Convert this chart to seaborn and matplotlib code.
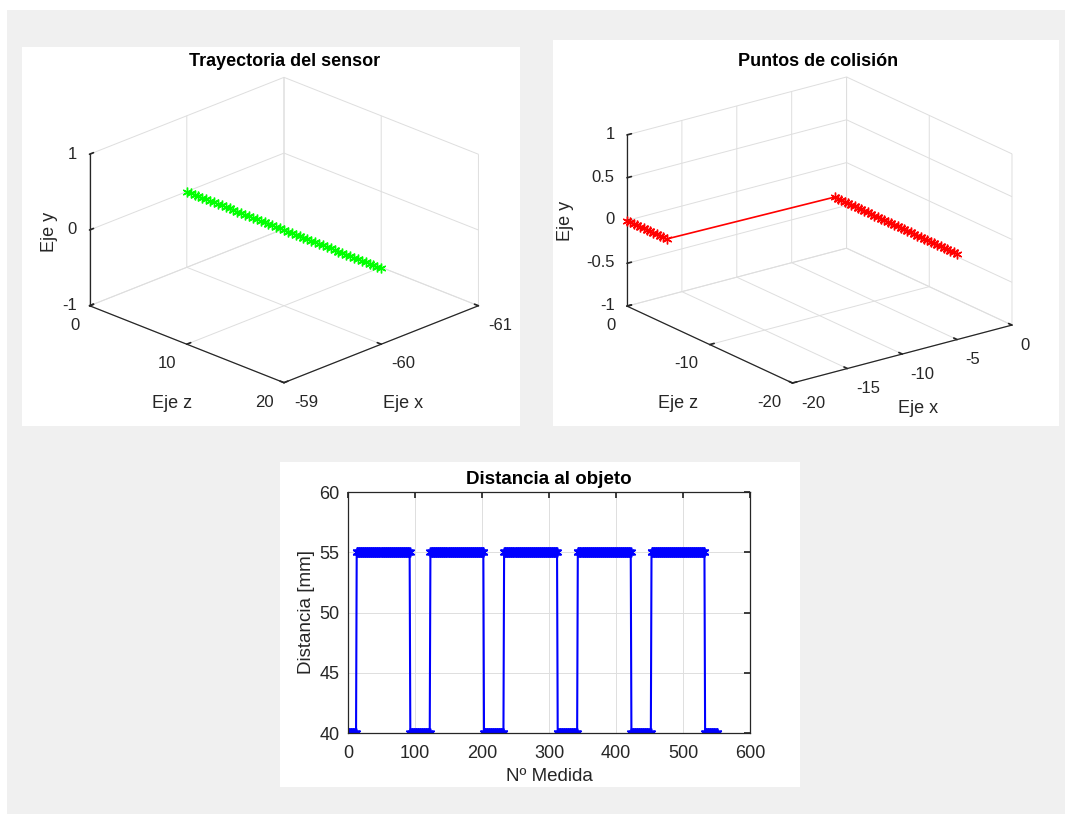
import matplotlib
matplotlib.use("Agg")
import matplotlib.pyplot as plt
import numpy as np
import pandas as pd
import seaborn as sns
from matplotlib.patches import Rectangle

# ---------------- data ----------------
# sensor positions along Eje z (the sensor stays at x = -60, y = 0)
sensor_z = [0.0, 0.4, 0.8, 1.2, 1.6, 2.0, 2.4, 2.8, 3.2, 3.6,
            4.0, 4.4, 4.8, 5.2, 5.6, 6.0, 6.4, 6.8, 7.2, 7.6,
            8.0, 8.4, 8.8, 9.2, 9.6, 10.0, 10.4, 10.8, 11.2, 11.6,
            12.0, 12.4, 12.8, 13.2, 13.6, 14.0, 14.4, 14.8, 15.2, 15.6,
            16.0, 16.4, 16.8, 17.2, 17.6, 18.0, 18.4, 18.8, 19.2, 19.6, 20.0]
sensor_x_value = -60.0
sensor_y_value = 0.0

# collision points: x level and number of consecutive points at that level
collision_x_levels = [-20.0, -5.0]
collision_x_runs = [13, 38]
collision_y_value = 0.0

# measured distance: level [mm] and number of consecutive measurements
distance_levels = [40, 55, 40, 55, 40, 55, 40, 55, 40, 55, 40]
distance_runs = [12, 80, 30, 80, 30, 80, 30, 80, 30, 80, 19]

# ---------------- styling ----------------
FIG_W, FIG_H = 1065, 814
BG = "#f0f0f0"
AX_COLOR = "#262626"
GRID_COLOR = "#dedede"
TICK_FS = 12
LABEL_FS = 13
TITLE_FS = 13

sns.set_theme(style="white")
plt.rcParams["font.family"] = ["Liberation Sans", "DejaVu Sans"]
plt.rcParams["axes.unicode_minus"] = False
plt.rcParams["grid.color"] = GRID_COLOR
plt.rcParams["grid.linewidth"] = 0.7
plt.rcParams["grid.linestyle"] = "-"
plt.rcParams["axes3d.automargin"] = False

ASTERISK = (6, 2, 0)

fig = plt.figure(figsize=(FIG_W / 100, FIG_H / 100), dpi=100, facecolor=BG)


def px_rect(x0, y0, x1, y1, color):
    """Rectangle given in pixels measured from the top-left corner."""
    fig.patches.append(Rectangle((x0 / FIG_W, 1 - y1 / FIG_H),
                                 (x1 - x0) / FIG_W, (y1 - y0) / FIG_H,
                                 transform=fig.transFigure, facecolor=color,
                                 edgecolor="none", zorder=-10))


def px_text(x, y, s, **kw):
    """Figure text placed at a pixel position measured from the top-left."""
    fig.text(x / FIG_W, 1 - y / FIG_H, s, ha="center", va="center", **kw)


# outer white frame strips and white panels
px_rect(0, 0, FIG_W, 10, "white")
px_rect(0, 0, 7, FIG_H, "white")
px_rect(22, 47, 520, 426, "white")
px_rect(553, 40, 1059, 426, "white")
px_rect(280, 462, 800, 787, "white")


def style_3d(ax):
    ax.set_proj_type("ortho")
    ax.patch.set_visible(False)
    for axis in (ax.xaxis, ax.yaxis, ax.zaxis):
        axis.set_pane_color((1, 1, 1, 0))
        axis.pane.set_edgecolor(GRID_COLOR)
        axis.pane.set_linewidth(0.7)
        axis.line.set_color(AX_COLOR)
        axis.line.set_linewidth(0.9)
        axis._axinfo["grid"].update(color=GRID_COLOR, linewidth=0.7)
        axis._axinfo["tick"].update(inward_factor=0.0, outward_factor=0.25)
        axis._axinfo["tick"]["color"] = AX_COLOR
        axis.set_tick_params(labelsize=TICK_FS, colors=AX_COLOR, pad=0)
    ax.zaxis.set_tick_params(pad=-3)


def align_3d_ticklabels(ax):
    # labels on the right floor edge hang to the right, the others to the left
    for t in ax.xaxis.get_majorticklabels():
        t.set_horizontalalignment("left")
    for t in ax.yaxis.get_majorticklabels():
        t.set_horizontalalignment("right")
    for t in ax.zaxis.get_majorticklabels():
        t.set_horizontalalignment("right")
        t.set_verticalalignment("center")


def corners_px(ax):
    M = ax.get_proj()
    xs, ys, zs = [], [], []
    for a in ax.get_xlim3d():
        for b in ax.get_ylim3d():
            for c in ax.get_zlim3d():
                xs.append(a); ys.append(b); zs.append(c)
    v = M @ np.vstack([xs, ys, zs, np.ones(len(xs))])
    pts = np.column_stack([v[0] / v[3], v[1] / v[3]])
    return ax.transData.transform(pts)


def place_box(ax, left, top, right, bottom):
    """Size the 3D axes so its data box spans the given pixel region."""
    for _ in range(4):
        fig.canvas.draw()
        d = corners_px(ax)
        x0, x1 = d[:, 0].min(), d[:, 0].max()
        y0, y1 = d[:, 1].min(), d[:, 1].max()
        ty0, ty1 = FIG_H - bottom, FIG_H - top
        s = ((right - left) / (x1 - x0) + (ty1 - ty0) / (y1 - y0)) / 2
        bb = ax.get_position().transformed(fig.transFigure)
        cx, cy = (bb.x0 + bb.x1) / 2, (bb.y0 + bb.y1) / 2
        mx, my = (x0 + x1) / 2, (y0 + y1) / 2
        size = bb.width * s
        ncx = (left + right) / 2 - (mx - cx) * s
        ncy = (ty0 + ty1) / 2 - (my - cy) * s
        ax.set_position([(ncx - size / 2) / FIG_W, (ncy - size / 2) / FIG_H,
                         size / FIG_W, size / FIG_H])
    fig.canvas.draw()
    align_3d_ticklabels(ax)


label_kw = dict(fontsize=LABEL_FS, color=AX_COLOR)
title_kw = dict(fontsize=TITLE_FS, fontweight="bold", color="black")

# ---------------- Trayectoria del sensor ----------------
n_sensor = len(sensor_z)
ax1 = fig.add_axes([0.0, 0.45, 0.5, 0.5], projection="3d")
style_3d(ax1)
ax1.plot([sensor_x_value] * n_sensor, sensor_z, [sensor_y_value] * n_sensor,
         color=(0, 1, 0), linewidth=1.0, marker=ASTERISK, markersize=7,
         markeredgewidth=1.0)
ax1.set_xlim(-61, -59)
ax1.set_ylim(0, 20)
ax1.set_zlim(-1, 1)
ax1.set_xticks([-61, -60, -59])
ax1.set_yticks([0, 10, 20])
ax1.set_zticks([-1, 0, 1])
ax1.set_box_aspect((1, 1, 0.6))
ax1.view_init(elev=23.3, azim=45)
place_box(ax1, 90, 77, 478, 383)
px_text(285, 62, "Trayectoria del sensor", **title_kw)
px_text(49, 232, "Eje y", rotation=90, **label_kw)
px_text(172, 404, "Eje z", **label_kw)
px_text(403, 404, "Eje x", **label_kw)

# ---------------- Puntos de colisión ----------------
collision_x = np.repeat(collision_x_levels, collision_x_runs)
collision_z = [-z for z in sensor_z]
ax2 = fig.add_axes([0.5, 0.45, 0.5, 0.5], projection="3d")
style_3d(ax2)
ax2.plot(collision_x, collision_z, [collision_y_value] * len(collision_z),
         color=(1, 0, 0), linewidth=1.2, marker=ASTERISK, markersize=7,
         markeredgewidth=1.0)
ax2.set_xlim(-20, 0)
ax2.set_ylim(-20, 0)
ax2.set_zlim(-1, 1)
ax2.set_xticks([-20, -15, -10, -5, 0])
ax2.set_yticks([-20, -10, 0])
ax2.set_zticks([-1, -0.5, 0, 0.5, 1])
ax2.set_zticklabels(["-1", "-0.5", "0", "0.5", "1"])
ax2.set_box_aspect((1, 1, 0.665))
ax2.view_init(elev=20.5, azim=-127)
place_box(ax2, 627, 77, 1012, 383)
px_text(818, 62, "Puntos de colisión", **title_kw)
px_text(566, 221, "Eje y", rotation=90, **label_kw)
px_text(678, 404, "Eje z", **label_kw)
px_text(918, 409, "Eje x", **label_kw)

# ---------------- Distancia al objeto ----------------
dist = np.repeat(distance_levels, distance_runs)
df = pd.DataFrame({"medida": np.arange(1, len(dist) + 1), "distancia": dist})
ax3 = fig.add_axes([348 / FIG_W, 1 - 733 / FIG_H, 402 / FIG_W, 241 / FIG_H])
ax3.set_facecolor("white")
sns.lineplot(data=df, x="medida", y="distancia", ax=ax3, estimator=None,
             sort=False, color=(0, 0, 1), linewidth=1.5, marker=ASTERISK,
             markersize=7, markeredgewidth=1.1, markeredgecolor=(0, 0, 1))
ax3.set_xlim(0, 600)
ax3.set_ylim(40, 60)
ax3.set_xticks(range(0, 601, 100))
ax3.set_yticks(range(40, 61, 5))
ax3.grid(True, color=GRID_COLOR, linewidth=0.7)
ax3.tick_params(direction="in", length=4, labelsize=13, colors=AX_COLOR,
                top=True, right=True)
ax3.tick_params(axis="x", pad=9)
ax3.tick_params(axis="y", pad=6)
for sp in ax3.spines.values():
    sp.set_color(AX_COLOR)
    sp.set_linewidth(0.9)
ax3.set_xlabel("Nº Medida", fontsize=13.5, color=AX_COLOR, labelpad=4)
ax3.set_ylabel("Distancia [mm]", fontsize=13.5, color=AX_COLOR, labelpad=3)
ax3.set_title("Distancia al objeto", fontsize=13.5, fontweight="bold",
              color="black", pad=6)

fig.savefig("out.png", dpi=100, facecolor=BG)
